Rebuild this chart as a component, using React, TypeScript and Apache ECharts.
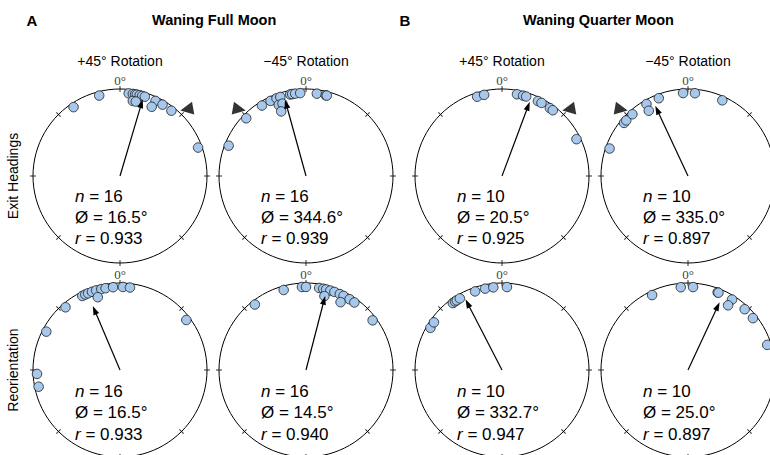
import React, { useEffect, useRef } from "react";
import * as echarts from "echarts";

// ---- Data (angles in degrees, clockwise from 0° at top) ----
// A: Waning Full Moon, Exit Headings, +45° rotation
const fullExitPlusOuter = [326, 345.5, 6, 8.9, 10.5, 11.7, 13.7, 15.5, 17.4, 25.3, 30.8, 38.2, 70];
const fullExitPlusInner = [9.7, 12, 24.6];
const fullExitPlusInner2: number[] = [];
// A: Waning Full Moon, Exit Headings, −45° rotation
const fullExitMinusOuter = [291.4, 314, 328, 334.7, 339.2, 342, 349, 350.4, 352.5, 356, 7.5, 13.7, 14.5];
const fullExitMinusInner = [339, 342];
const fullExitMinusInner2 = [339];
// B: Waning Quarter Moon, Exit Headings, +45°
const quarterExitPlusOuter = [342.6, 347.6, 10.4, 14.7, 16.9, 25.6, 28.4, 35.2, 37.7, 63.7];
const quarterExitPlusInner: number[] = [];
const quarterExitPlusInner2: number[] = [];
// B: Waning Quarter Moon, Exit Headings, −45°
const quarterExitMinusOuter = [289.3, 309.7, 312, 318, 330, 339.4, 356.6, 4.8, 24.4];
const quarterExitMinusInner = [329];
const quarterExitMinusInner2: number[] = [];
// A: Waning Full Moon, Reorientation, +45°
const fullReorPlusOuter = [258.4, 267.3, 297.5, 319, 333, 335.3, 337.4, 340.3, 343.3, 347, 350, 355.2, 2, 6.9, 53];
const fullReorPlusInner = [343];
const fullReorPlusInner2: number[] = [];
// A: Waning Full Moon, Reorientation, −45°
const fullReorMinusOuter = [322, 344.4, 357.2, 0, 9.1, 12, 14, 17, 20, 24, 26.9, 31.6, 35.6, 53.3];
const fullReorMinusInner = [14, 27];
const fullReorMinusInner2: number[] = [];
// B: Waning Quarter Moon, Reorientation, +45°
const quarterReorPlusOuter = [300.5, 305, 323.7, 325.6, 327, 329.5, 341.1, 348.3, 354, 3.4];
const quarterReorPlusInner: number[] = [];
const quarterReorPlusInner2: number[] = [];
// B: Waning Quarter Moon, Reorientation, −45°
const quarterReorMinusOuter = [334.4, 355, 3.5, 20.9, 21.5, 32, 43, 51.4, 72.4];
const quarterReorMinusInner = [31.8];
const quarterReorMinusInner2: number[] = [];

// mean vectors as drawn (angle, length) and as labelled
const arrowAngles = [16.5, 344.6, 20.5, 335, 337, 14.5, 332.7, 25];
const arrowLengths = [0.92, 0.91, 0.91, 0.89, 0.8, 0.88, 0.915, 0.86];
const nLabels = ["16", "16", "10", "10", "16", "16", "10", "10"];
const meanLabels = ["16.5°", "344.6°", "20.5°", "335.0°", "16.5°", "14.5°", "332.7°", "25.0°"];
const rLabels = ["0.933", "0.939", "0.925", "0.897", "0.933", "0.940", "0.947", "0.897"];
// rotation marker angle for top-row plots
const rotationMarkers = [45, 315, 45, 315];
const columnTitles = ["+45° Rotation", "\u221245° Rotation", "+45° Rotation", "\u221245° Rotation"];
const rowTitles = ["Exit Headings", "Reorientation"];
const groupTitles = ["Waning Full Moon", "Waning Quarter Moon"];
const groupLetters = ["A", "B"];
const tickAngles = [0, 45, 90, 135, 180, 225, 270, 315];

const plotOuter = [fullExitPlusOuter, fullExitMinusOuter, quarterExitPlusOuter, quarterExitMinusOuter, fullReorPlusOuter, fullReorMinusOuter, quarterReorPlusOuter, quarterReorMinusOuter];
const plotInner = [fullExitPlusInner, fullExitMinusInner, quarterExitPlusInner, quarterExitMinusInner, fullReorPlusInner, fullReorMinusInner, quarterReorPlusInner, quarterReorMinusInner];
const plotInner2 = [fullExitPlusInner2, fullExitMinusInner2, quarterExitPlusInner2, quarterExitMinusInner2, fullReorPlusInner2, fullReorMinusInner2, quarterReorPlusInner2, quarterReorMinusInner2];

// ---- Layout ----
const colX = [120, 306, 502, 688];
const rowY = [176, 370];
const textDy = [[20, 41, 62], [21, 42, 64]];
const R = 87;
const SANS = "Liberation Sans";

export default function App() {
  const ref = useRef<HTMLDivElement>(null);
  useEffect(() => {
    if (!ref.current) return;
    const chart = echarts.init(ref.current, null, { renderer: "svg" });
    const polar: any[] = [];
    const angleAxis: any[] = [];
    const radiusAxis: any[] = [];
    const series: any[] = [];
    const graphic: any[] = [];

    for (let i = 0; i < 8; i++) {
      const row = Math.floor(i / 4);
      const col = i % 4;
      const cx = colX[col];
      const cy = rowY[row];
      polar.push({ center: [cx, cy], radius: R });
      angleAxis.push({
        polarIndex: i,
        type: "value",
        min: 0,
        max: 360,
        interval: 45,
        startAngle: 90,
        clockwise: true,
        axisLine: { show: true, lineStyle: { color: "#000", width: 1 } },
        axisTick: { show: false },
        splitLine: { show: false },
        splitArea: { show: false },
        axisLabel: {
          show: true,
          margin: 2,
          formatter: (v: number) => (v === 0 ? "0°" : ""),
          color: "#444",
          fontFamily: "Liberation Serif",
          fontSize: 13,
        },
      });
      radiusAxis.push({
        polarIndex: i,
        type: "value",
        min: 0,
        max: 1,
        show: false,
        axisLine: { show: false },
        axisTick: { show: false },
        axisLabel: { show: false },
        splitLine: { show: false },
        splitArea: { show: false },
      });
      // ticks crossing the circle
      series.push({
        type: "scatter",
        coordinateSystem: "polar",
        polarIndex: i,
        clip: false,
        silent: true,
        symbol: "rect",
        symbolSize: [1, 6],
        itemStyle: { color: "#000" },
        z: 2,
        data: tickAngles.map((a) => ({ value: [1, a], symbolRotate: -a })),
      });
      // dots
      const dots = [
        ...plotOuter[i].map((a) => [0.955, a]),
        ...plotInner[i].map((a) => [0.875, a]),
        ...plotInner2[i].map((a) => [0.795, a]),
      ];
      series.push({
        type: "scatter",
        coordinateSystem: "polar",
        polarIndex: i,
        clip: false,
        symbol: "circle",
        symbolSize: 9.5,
        itemStyle: { color: "#a6c8ec", borderColor: "#1a1a1a", borderWidth: 0.8, opacity: 1 },
        z: 3,
        data: dots,
      });
      // mean vector arrow
      const a = arrowAngles[i];
      const tipLen = arrowLengths[i] - 4.5 / R;
      series.push({
        type: "line",
        coordinateSystem: "polar",
        polarIndex: i,
        clip: false,
        symbol: "triangle",
        showSymbol: true,
        lineStyle: { color: "#000", width: 1.2 },
        itemStyle: { color: "#000" },
        z: 4,
        data: [
          { value: [0, a], symbol: "none" },
          { value: [tipLen, a], symbol: "triangle", symbolSize: [6, 9], symbolRotate: -a },
        ],
      });
      // rotation marker
      if (row === 0) {
        const m = rotationMarkers[col];
        series.push({
          type: "scatter",
          coordinateSystem: "polar",
          polarIndex: i,
          clip: false,
          symbol: "triangle",
          symbolSize: 13,
          itemStyle: { color: "#000" },
          z: 4,
          data: [{ value: [1.085, m], symbolRotate: m < 180 ? 100 : -100 }],
        });
      }
      // stats text
      const tx = cx - 45;
      const dys = textDy[row];
      const lines = [
        { txt: `{i|n} = ${nLabels[i]}`, dy: dys[0] },
        { txt: `Ø = ${meanLabels[i]}`, dy: dys[1] },
        { txt: `{i|r} = ${rLabels[i]}`, dy: dys[2] },
      ];
      lines.forEach((l) => {
        graphic.push({
          type: "text",
          x: tx,
          y: cy + l.dy,
          z: 10,
          style: {
            text: l.txt,
            fontSize: 17,
            fontFamily: SANS,
            fill: "#000",
            align: "left",
            verticalAlign: "middle",
            textAlign: "left",
            textVerticalAlign: "middle",
            rich: {
              i: { fontStyle: "italic", fontSize: 17, fontFamily: SANS, fill: "#000" },
            },
          },
        });
      });
    }

    // column titles
    columnTitles.forEach((t, c) => {
      graphic.push({
        type: "text",
        x: colX[c],
        y: 61,
        style: {
          text: t,
          fontSize: 14,
          fontFamily: SANS,
          fill: "#000",
          align: "center",
          verticalAlign: "middle",
          textAlign: "center",
          textVerticalAlign: "middle",
        },
      });
    });
    // row titles (rotated)
    rowTitles.forEach((t, r) => {
      graphic.push({
        type: "text",
        x: 13,
        y: rowY[r],
        rotation: Math.PI / 2,
        style: {
          text: t,
          fontSize: 14,
          fontFamily: SANS,
          fill: "#000",
          align: "center",
          verticalAlign: "middle",
          textAlign: "center",
          textVerticalAlign: "middle",
        },
      });
    });
    // group letters and titles
    const letterX = [32, 405];
    const titleX = [152, 523];
    groupLetters.forEach((t, g) => {
      graphic.push({
        type: "text",
        x: letterX[g],
        y: 20,
        style: {
          text: t,
          fontSize: 15,
          fontWeight: "bold",
          fontFamily: SANS,
          fill: "#000",
          align: "center",
          verticalAlign: "middle",
          textAlign: "center",
          textVerticalAlign: "middle",
        },
      });
      graphic.push({
        type: "text",
        x: titleX[g],
        y: 20,
        style: {
          text: groupTitles[g],
          fontSize: 14.5,
          fontWeight: "bold",
          fontFamily: SANS,
          fill: "#000",
          align: "left",
          verticalAlign: "middle",
          textAlign: "left",
          textVerticalAlign: "middle",
        },
      });
    });

    chart.setOption({
      animation: false,
      backgroundColor: "#fff",
      polar,
      angleAxis,
      radiusAxis,
      series,
      graphic,
    });
    return () => chart.dispose();
  }, []);
  return (
    <div
      ref={ref}
      style={{ position: "absolute", left: 0, top: 0, width: 770, height: 455 }}
    />
  );
}
